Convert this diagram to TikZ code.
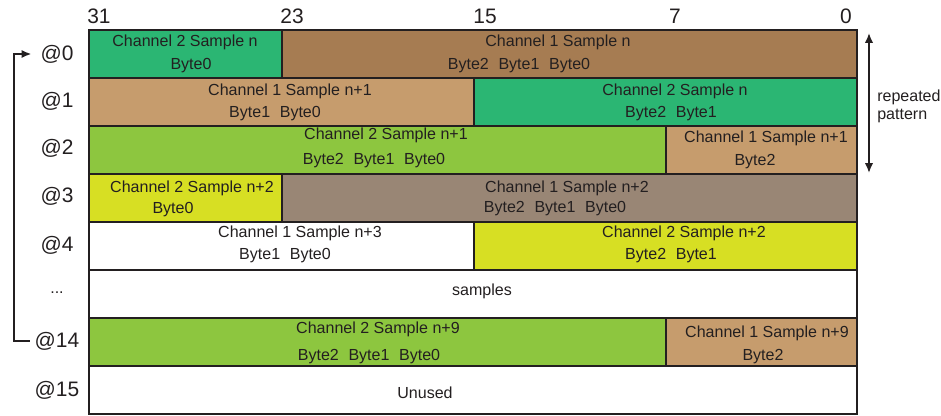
\documentclass[tikz,border=0pt]{standalone}
\usepackage{fontspec}
\setmainfont{Liberation Sans}
\usepackage{tikz}
\usepackage{xcolor}
\usetikzlibrary{arrows.meta}

\definecolor{ink}{HTML}{231F20}
\definecolor{chgreen}{HTML}{2BB673}
\definecolor{chbrown}{HTML}{A67C52}
\definecolor{chtan}{HTML}{C69C6D}
\definecolor{ltgreen}{HTML}{8DC63F}
\definecolor{chyellow}{HTML}{D7DF23}
\definecolor{grbrown}{HTML}{998675}
\newcommand{\bsp}{\hspace{0.6em}}

\begin{document}
\begin{tikzpicture}[x=0.025cm,y=-0.025cm,
  cell/.style={draw=ink,line width=1.2pt,rectangle,inner sep=0pt,minimum height=1.2cm},
  txt/.style={text=ink,font=\fontsize{11.4}{13}\selectfont,inner sep=1pt},
  addr/.style={text=ink,font=\fontsize{14.9}{17}\selectfont},
  arr/.style={draw=ink,line width=1.3pt}]
\useasboundingbox (0,0) rectangle (941,415);
% memory cells
  \foreach \nm/\xa/\xb/\ya/\clr in {a0/89/282/30/chgreen,b0/282/857/30/chbrown,
    a1/89/474/78/chtan,b1/474/857/78/chgreen,a2/89/666/126/ltgreen,b2/666/857/126/chtan,
    a3/89/282/174/chyellow,b3/282/857/174/grbrown,a4/89/474/222/white,b4/474/857/222/chyellow,
    a5/89/857/270/white,a14/89/666/318/ltgreen,b14/666/857/318/chtan,a15/89/857/366/white}
  {  \node [cell,fill=\clr,minimum width={(\xb-\xa)*0.025cm}] (\nm) at ({(\xa+\xb)/2},{\ya+24}) {};}
% cell texts
  \foreach \x/\y/\t [count=\i] in {185/42/Channel 2 Sample n,191/66/Byte0,
    558/42/Channel 1 Sample n,519/66/Byte2\bsp Byte1\bsp Byte0,
    290/91/Channel 1 Sample n+1,275/114/Byte1\bsp Byte0,
    675/91/Channel 2 Sample n,671/114/Byte2\bsp Byte1,
    386/135/Channel 2 Sample n+1,374/161/Byte2\bsp Byte1\bsp Byte0,
    766/138/Channel 1 Sample n+1,755/162/Byte2,
    192/188/Channel 2 Sample n+2,173/210/Byte0,
    567/188/Channel 1 Sample n+2,555/209/Byte2\bsp Byte1\bsp Byte0,
    300/233/Channel 1 Sample n+3,285/256/Byte1\bsp Byte0,
    684/233/Channel 2 Sample n+2,671/256/Byte2\bsp Byte1,
    482/291/samples,
    378/329/Channel 2 Sample n+9,369/357/Byte2\bsp Byte1\bsp Byte0,
    767/333/Channel 1 Sample n+9,763/357/Byte2,
    425/393/Unused}
  {  \node [txt] (t\i) at (\x,\y) {\t};}
% bit numbers
  \foreach \b/\x in {31/99,23/292,15/485,7/675,0/846}
  {  \node [addr] (n\b) at (\x,16) {\b};}
% addresses
  \foreach \nm/\y/\t in {l0/54/@0,l1/101/@1,l2/148/@2,l3/196/@3,l4/245/@4,l14/341/@14,l15/390/@15}
  {  \node [addr] (\nm) at (57,\y) {\t};}
\node [txt] (ldots) at (57,293) {...};
% loop back
\draw [arr,-{Latex[length=7pt,width=6pt]}] (l14.west) -- ++(-16,0) |- ([xshift=-3pt]l0.west);
% repeated pattern
\coordinate (rtop) at (869,33);
\coordinate (rbot) at (869,173);
\draw [arr,{Latex[length=7pt,width=6pt]}-{Latex[length=7pt,width=6pt]}] (rtop) -- (rbot);
\node [txt,anchor=west,align=left,inner sep=0pt] (rp) at (877,106) {repeated\\pattern};
\end{tikzpicture}
\end{document}
